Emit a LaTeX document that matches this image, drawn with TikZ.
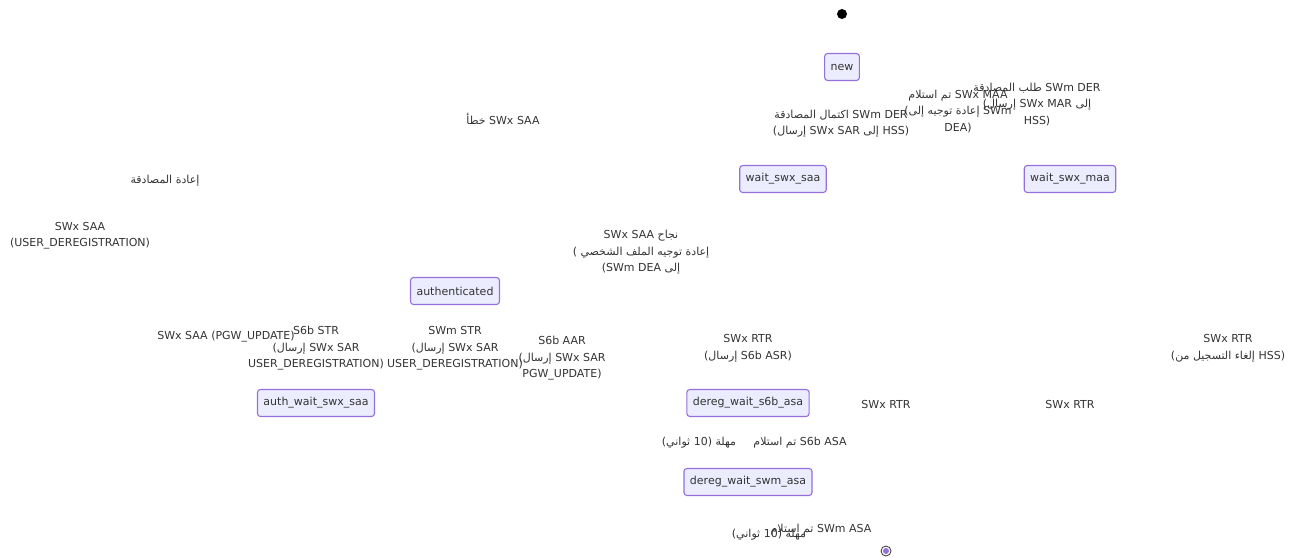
\documentclass[tikz,border=0pt]{standalone}
\usepackage{fontspec}
\setmainfont{DejaVu Sans}
\newfontfamily\arfont[Script=Arabic]{DejaVu Sans}
\TeXXeTstate=1
\newcommand\AR[1]{{\arfont\beginR #1\endR}}
\definecolor{stfill}{HTML}{ECECFF}
\definecolor{stline}{HTML}{9370DB}
\definecolor{txt}{HTML}{333333}
\tikzset{
  state/.style={draw=stline, fill=stfill, line width=1.1pt, rounded corners=3pt,
    minimum height=27pt, inner xsep=6pt, inner ysep=0pt, text=txt,
    font=\fontsize{11}{13}\selectfont},
  lbl/.style={align=center, text=txt, inner sep=0pt, yshift=-1.5pt,
    font=\fontsize{11}{16.5}\selectfont},
}
\begin{document}
\begin{tikzpicture}[x=1pt,y=-1pt]
\useasboundingbox (0,0) rectangle (1295,557);
% start and end
\node[circle, fill=black, minimum size=10pt, inner sep=0pt] (start) at (842,14) {};
\node[circle, draw=txt, fill=white, line width=0.8pt, minimum size=10pt, inner sep=0pt] (final) at (886,551) {};
\node[circle, fill=stline, minimum size=6pt, inner sep=0pt] (finalin) at (886,551) {};
% states
\node[state] (new) at (842,67) {new};
\node[state] (wsaa) at (783,179) {wait\_swx\_saa};
\node[state] (wmaa) at (1070,179) {wait\_swx\_maa};
\node[state] (auth) at (455,291) {authenticated};
\node[state] (awsaa) at (316,403) {auth\_wait\_swx\_saa};
\node[state] (ds6b) at (748,403) {dereg\_wait\_s6b\_asa};
\node[state] (dswm) at (748,482) {dereg\_wait\_swm\_asa};
% labels
\node[lbl] (lA) at (841,122) {\AR{اكتمال المصادقة} SWm DER\\(\AR{إرسال} SWx SAR \AR{إلى} HSS)};
\node[lbl] (lB) at (958,110) {\AR{تم استلام} SWx MAA\\(\AR{إعادة توجيه إلى} SWm\\DEA)};
\node[lbl] (lC) at (1037,103) {\AR{طلب المصادقة} SWm DER\\(\AR{إرسال} SWx MAR \AR{إلى}\\HSS)};
\node[lbl] (lD) at (641,251) {SWx SAA \AR{نجاح}\\( \AR{إعادة توجيه الملف الشخصي}\\(SWm DEA \AR{إلى}};
\node[lbl] (lE) at (503,117) {\AR{خطأ} SWx SAA};
\node[lbl] (lF) at (165,179) {\AR{إعادة المصادقة}};
\node[lbl] (lG) at (80,234) {SWx SAA\\(USER\_DEREGISTRATION)};
\node[lbl] (lH) at (226,335) {SWx SAA (PGW\_UPDATE)};
\node[lbl] (lI) at (316,347) {S6b STR\\(\AR{إرسال} SWx SAR\\USER\_DEREGISTRATION)};
\node[lbl] (lJ) at (455,347) {SWm STR\\(\AR{إرسال} SWx SAR\\USER\_DEREGISTRATION)};
\node[lbl] (lK) at (562,357) {S6b AAR\\(\AR{إرسال} SWx SAR\\PGW\_UPDATE)};
\node[lbl] (lL) at (748,347) {SWx RTR\\(\AR{إرسال} S6b ASR)};
\node[lbl] (lM) at (1228,347) {SWx RTR\\(\AR{إلغاء التسجيل من} HSS)};
\node[lbl] (lN1) at (886,403) {SWx RTR};
\node[lbl] (lN2) at (1070,403) {SWx RTR};
\node[lbl] (lO) at (699,441) {(\AR{ثواني} 10) \AR{مهلة}};
\node[lbl] (lP) at (800,441) {\AR{تم استلام} S6b ASA};
\node[lbl] (lQ1) at (821,528) {\AR{تم استلام} SWm ASA};
\node[lbl] (lQ2) at (769,533) {(\AR{ثواني} 10) \AR{مهلة}};
\end{tikzpicture}
\end{document}
